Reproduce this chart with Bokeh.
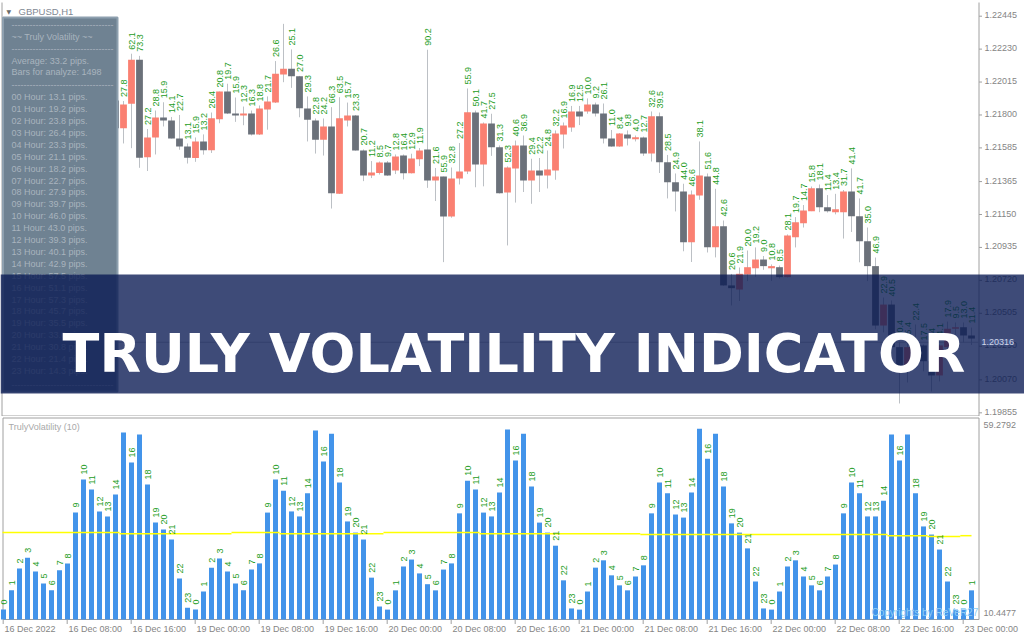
import numpy as np
from bokeh.plotting import figure
from bokeh.layouts import column
from bokeh.models import Range1d, ColumnDataSource, BoxAnnotation, Label
from bokeh.core.properties import value
from bokeh.embed import file_html
from bokeh.resources import INLINE

# ---------------- data ----------------
SYMBOL = "GBPUSD,H1"
INDICATOR = "TrulyVolatility (10)"
BANNER = "TRULY VOLATILITY INDICATOR"
COPYRIGHT = "Copyrights by ReVeR27"

HOURS = [0, 1, 2, 3, 4, 5, 6, 7, 8, 9, 10, 11, 12, 13, 14, 15, 16, 17, 18, 19, 20, 21, 22, 23]
HIDDEN_LABEL_HOURS = [15, 17]   # their labels are not shown in the pane (would hit the top)

VOL_16 = [11.2, 16.2, 21.9, 24.7, 21.1, 18.0, 16.2, 21.4, 23.2, 36.4, 45.0, 42.4,
          36.7, 35.4, 41.1, 57.2, 49.4, 56.7, 43.7, 33.8, 32.0, 29.4, 19.3, 11.7]
VOL_19 = [11.2, 15.9, 22.1, 24.5, 21.1, 18.0, 16.2, 21.6, 23.2, 36.4, 45.0, 42.1,
          36.7, 35.4, 41.4, 57.7, 49.7, 56.9, 44.2, 34.1, 31.2, 29.4, 19.5, 12.0]
VOL_20 = [11.2, 16.2, 22.4, 24.2, 20.6, 17.8, 16.2, 21.6, 23.2, 36.2, 44.7, 42.4,
          36.4, 35.4, 41.6, 58.0, 49.9, 56.9, 43.2, 33.8, 31.2, 27.8, 18.8, 11.5]
VOL_21 = [11.2, 15.9, 22.1, 24.0, 20.1, 17.5, 16.2, 19.8, 22.7, 36.2, 44.2, 41.4,
          35.9, 35.1, 41.6, 58.2, 50.4, 56.9, 43.2, 33.6, 31.2, 27.1, 18.5, 11.5]
VOL_22 = [11.2, 15.9, 22.4, 24.0, 19.8, 17.5, 16.2, 19.8, 22.9, 36.2, 44.2, 41.4,
          35.4, 35.4, 39.5, 56.7, 49.9, 56.7, 41.4, 32.8, 30.7, 26.8, 18.5, 11.2]
VOL_23 = [11.2, 16.2]
HOURS_23 = [0, 1]

TIME_TICKS = [0, 8, 16, 24, 32, 40, 48, 56, 64, 72, 80, 88, 96, 104, 112, 120]
TIME_LABELS = ["16 Dec 2022", "16 Dec 08:00", "16 Dec 16:00", "19 Dec 00:00",
               "19 Dec 08:00", "19 Dec 16:00", "20 Dec 00:00", "20 Dec 08:00",
               "20 Dec 16:00", "21 Dec 00:00", "21 Dec 08:00", "21 Dec 16:00",
               "22 Dec 00:00", "22 Dec 08:00", "22 Dec 16:00", "23 Dec 00:00"]

PRICE_TICKS = [1.22445, 1.22230, 1.22015, 1.21800, 1.21585, 1.21365, 1.21150,
               1.20935, 1.20720, 1.20505, 1.20290, 1.20070, 1.19855]
VOL_TICKS = [59.2792, 10.4477]
BID = 1.20316

# average line (bar index from, bar index to, level)
AVG_FROM = [-0.125, 14.5, 28.5, 34.5, 47.5, 59.5, 79.6, 110.5, 115.5, 119.6]
AVG_TO = [14.5, 28.5, 34.5, 47.5, 59.5, 79.6, 110.5, 115.5, 119.6, 121.0]
AVG_LEVEL = [31.2, 30.9, 31.2, 30.9, 31.2, 30.9, 30.7, 30.4, 30.2, 30.4]

CANDLE_FIRST = 14
OPEN = [1.21895, 1.21714, 1.21873, 1.22160, 1.21524, 1.21653, 1.21784, 1.21764, 1.21646, 1.21594,
        1.21519, 1.21627, 1.21570, 1.21772, 1.21953, 1.21810, 1.21797, 1.21810, 1.21673, 1.21836,
        1.21881, 1.22064, 1.22102, 1.22053, 1.21842, 1.21764, 1.21638, 1.21725, 1.21285, 1.21764,
        1.21797, 1.21568, 1.21405, 1.21421, 1.21490, 1.21437, 1.21535, 1.21420, 1.21511, 1.21575,
        1.21372, 1.21398, 1.21137, 1.21385, 1.21431, 1.21816, 1.21477, 1.21744, 1.21590, 1.21294,
        1.21451, 1.21601, 1.21372, 1.21437, 1.21405, 1.21437, 1.21673, 1.21718, 1.21823, 1.21823,
        1.21868, 1.21810, 1.21646, 1.21594, 1.21673, 1.21642, 1.21653, 1.21548, 1.21792, 1.21492,
        1.21361, 1.21300, 1.20969, 1.21274, 1.21398, 1.20937, 1.21074, 1.20687, 1.20660, 1.20758,
        1.20799, 1.20856, 1.20799, 1.20806, 1.20741, 1.21002, 1.21093, 1.21172, 1.21322, 1.21198,
        1.21165, 1.21165, 1.21300, 1.21139, 1.20976, 1.20813, 1.20425, 1.20562, 1.20284, 1.20149,
        1.20257, 1.20295, 1.20192, 1.20099, 1.20284, 1.20404, 1.20414, 1.20360]
HIGH = [1.21921, 1.21891, 1.22200, 1.22186, 1.21708, 1.21829, 1.21883, 1.21787, 1.21800, 1.21614,
        1.21653, 1.21673, 1.21816, 1.21953, 1.22004, 1.21914, 1.21855, 1.21829, 1.21862, 1.21921,
        1.22152, 1.22395, 1.22228, 1.22055, 1.21921, 1.21777, 1.21777, 1.21851, 1.21916, 1.21881,
        1.21800, 1.21575, 1.21499, 1.21496, 1.21499, 1.21542, 1.21542, 1.21547, 1.21584, 1.22226,
        1.21454, 1.21398, 1.21457, 1.21617, 1.21973, 1.21829, 1.21751, 1.21808, 1.21601, 1.21464,
        1.21633, 1.21666, 1.21514, 1.21519, 1.21568, 1.21699, 1.21751, 1.21859, 1.21859, 1.21908,
        1.21881, 1.21875, 1.21702, 1.21682, 1.21699, 1.21666, 1.21659, 1.21823, 1.21816, 1.21539,
        1.21418, 1.21351, 1.21307, 1.21627, 1.21418, 1.21318, 1.21111, 1.20762, 1.20804, 1.20915,
        1.20935, 1.20879, 1.20824, 1.20817, 1.21020, 1.21133, 1.21212, 1.21333, 1.21346, 1.21277,
        1.21285, 1.21310, 1.21451, 1.21255, 1.21065, 1.20869, 1.20608, 1.20589, 1.20321, 1.20308,
        1.20432, 1.20301, 1.20269, 1.20301, 1.20451, 1.20445, 1.20445, 1.20412]
LOW = [1.21673, 1.21614, 1.21583, 1.21455, 1.21434, 1.21542, 1.21725, 1.21646, 1.21573, 1.21483,
       1.21494, 1.21541, 1.21552, 1.21746, 1.21806, 1.21755, 1.21733, 1.21666, 1.21669, 1.21704,
       1.21878, 1.22014, 1.21977, 1.21785, 1.21627, 1.21548, 1.21535, 1.21189, 1.21284, 1.21725,
       1.21567, 1.21368, 1.21388, 1.21411, 1.21402, 1.21414, 1.21379, 1.21418, 1.21466, 1.21324,
       1.21238, 1.20839, 1.21129, 1.21346, 1.21414, 1.21328, 1.21334, 1.21533, 1.21287, 1.20948,
       1.21228, 1.21297, 1.21220, 1.21297, 1.21320, 1.21377, 1.21581, 1.21690, 1.21734, 1.21808,
       1.21790, 1.21614, 1.21592, 1.21592, 1.21601, 1.21627, 1.21533, 1.21496, 1.21421, 1.21255,
       1.21170, 1.20910, 1.20840, 1.21246, 1.20902, 1.20870, 1.20685, 1.20556, 1.20585, 1.20715,
       1.20743, 1.20789, 1.20716, 1.20732, 1.20739, 1.20935, 1.21065, 1.21172, 1.21165, 1.21163,
       1.21151, 1.20993, 1.21036, 1.20838, 1.20715, 1.20400, 1.20380, 1.20190, 1.19916, 1.20053,
       1.20210, 1.20126, 1.19994, 1.20060, 1.20272, 1.20350, 1.20314, 1.20298]
CLOSE = [1.21714, 1.21868, 1.22160, 1.21520, 1.21653, 1.21784, 1.21764, 1.21646, 1.21594, 1.21520,
         1.21627, 1.21570, 1.21779, 1.21953, 1.21810, 1.21797, 1.21810, 1.21673, 1.21842, 1.21888,
         1.22069, 1.22102, 1.22053, 1.21844, 1.21769, 1.21638, 1.21725, 1.21289, 1.21779, 1.21797,
         1.21568, 1.21405, 1.21424, 1.21490, 1.21405, 1.21529, 1.21420, 1.21516, 1.21568, 1.21372,
         1.21398, 1.21137, 1.21385, 1.21431, 1.21818, 1.21477, 1.21744, 1.21590, 1.21289, 1.21457,
         1.21601, 1.21372, 1.21437, 1.21405, 1.21444, 1.21679, 1.21731, 1.21823, 1.21790, 1.21868,
         1.21810, 1.21646, 1.21594, 1.21679, 1.21646, 1.21655, 1.21548, 1.21792, 1.21492, 1.21361,
         1.21300, 1.20969, 1.21281, 1.21405, 1.20937, 1.21074, 1.20687, 1.20669, 1.20763, 1.20806,
         1.20856, 1.20813, 1.20813, 1.20741, 1.21013, 1.21100, 1.21176, 1.21322, 1.21198, 1.21172,
         1.21185, 1.21300, 1.21139, 1.20976, 1.20813, 1.20425, 1.20562, 1.20284, 1.20149, 1.20284,
         1.20295, 1.20192, 1.20099, 1.20295, 1.20404, 1.20414, 1.20360, 1.20340]
RANGE_LABELS = ["", "27.8", "62.1", "73.3", "27.2", "28.8", "15.9", "14.1", "22.7", "13.1",
                "15.9", "13.2", "26.4", "20.8", "19.7", "15.9", "12.3", "16.3", "18.8", "21.7",
                "26.6", "", "25.1", "27.0", "29.3", "22.8", "24.2", "66.3", "63.5", "15.7",
                "23.3", "20.7", "11.2", "8.5", "9.7", "12.8", "16.4", "12.9", "11.9", "90.2",
                "21.6", "55.9", "32.8", "27.2", "55.9", "50.1", "41.7", "27.5", "31.3", "52.3",
                "40.6", "36.9", "29.4", "22.2", "24.8", "32.2", "16.9", "16.9", "12.5", "10.0",
                "9.2", "26.1", "11.0", "8.4", "9.8", "4.0", "12.7", "32.6", "39.5", "28.5",
                "24.9", "44.0", "46.6", "38.1", "51.6", "44.8", "42.6", "20.6", "21.9", "20.0",
                "19.2", "9.0", "10.8", "8.5", "28.1", "19.7", "14.7", "15.8", "18.1", "11.4",
                "13.4", "31.7", "41.4", "41.7", "35.0", "46.9", "22.9", "40.5", "40.4", "25.4",
                "22.4", "17.5", "27.4", "24.1", "17.9", "9.5", "13.0", "11.4"]

PANEL_AVERAGE = 33.2
PANEL_BARS = 1498
HOUR_AVG = [13.1, 19.2, 23.8, 26.4, 23.3, 21.1, 18.2, 22.7, 27.9, 39.7, 46.0, 43.0,
            39.3, 40.1, 42.9, 57.5, 51.1, 57.3, 45.7, 35.5, 33.0, 30.8, 21.4, 14.3]

# ---------------- layout helpers (reference pixel -> data) ----------------
FONT = "Liberation Sans"
W = 1024
GRID = "#a0a0a0"
AXIS_TEXT = "#858585"


def xi(px):
    return (px - 3.0) / 8.0


def yp(py):
    return 1.225475 - 0.0000653 * py


def yv(py):
    return 59.2792 - (py - 424.0) / 3.85


def base_fig(height, yr):
    f = figure(width=W, height=height, output_backend="svg", toolbar_location=None,
               x_range=Range1d(xi(0), xi(W)), y_range=yr,
               x_axis_location=None, y_axis_location=None, min_border=0,
               background_fill_color="white", border_fill_color="white",
               outline_line_color=None)
    f.grid.visible = False
    return f


# ---------------- top pane (price) ----------------
top = base_fig(416, Range1d(yp(416), yp(0)))

# pane frame
top.multi_line(xs=[[xi(1.5), xi(1.5)], [xi(978.5), xi(978.5)], [xi(1.5), xi(978.5)]],
               ys=[[yp(2), yp(415.5)], [yp(2), yp(415.5)], [yp(415.5), yp(415.5)]],
               line_color=GRID, line_width=1)
# price scale
top.segment(x0=[xi(978.5)] * len(PRICE_TICKS), x1=[xi(981.5)] * len(PRICE_TICKS),
            y0=PRICE_TICKS, y1=PRICE_TICKS, line_color=GRID, line_width=1)
top.text(x=[xi(984)] * len(PRICE_TICKS), y=PRICE_TICKS, text=["%.5f" % v for v in PRICE_TICKS],
         text_align="left", text_baseline="middle", y_offset=-1, text_font=value(FONT),
         text_font_size="9px", text_color=AXIS_TEXT)

cx = list(range(CANDLE_FIRST, CANDLE_FIRST + len(OPEN)))
csrc = ColumnDataSource(dict(
    x=cx, o=OPEN, h=HIGH, l=LOW, c=CLOSE,
    bt=[max(a, b) for a, b in zip(OPEN, CLOSE)],
    bb=[min(a, b) for a, b in zip(OPEN, CLOSE)],
    col=["#fa8072" if c > o else "#6b717a" for o, c in zip(OPEN, CLOSE)],
    lab=RANGE_LABELS))
top.segment(x0=[xi(2)], x1=[xi(978)], y0=[BID], y1=[BID], line_color="#c8c8c8", line_width=1)
top.segment(x0="x", y0="h", x1="x", y1="l", source=csrc, line_color="#bcc0c5", line_width=1)
top.vbar(x="x", width=0.85, top="bt", bottom="bb", source=csrc, fill_color="col", line_color=None)
top.text(x="x", y="h", text="lab", source=csrc, angle=np.pi / 2, text_align="left",
         text_baseline="middle", y_offset=-4, text_font=value(FONT), text_font_size="9px",
         text_color="#1c9c1c")

# info panel
top.quad(left=xi(2.5), right=xi(117), top=yp(17), bottom=yp(391),
         fill_color="#6f8292", line_color="#8ea0af", line_width=2)
SEP = "-" * 34
panel_text = [SEP, "~~ Truly Volatility ~~", SEP,
              "Average: %.1f pips." % PANEL_AVERAGE, "Bars for analyze: %d" % PANEL_BARS, SEP]
panel_y = [24, 36, 48.3, 60.7, 71.3, 84]
for k, (h, v) in enumerate(zip(HOURS, HOUR_AVG)):
    panel_text.append("%02d Hour: %.1f pips." % (h, v))
    panel_y.append(96.7 + 11.9 * k)
panel_text.append(SEP)
panel_y.append(384)
top.text(x=[xi(11)] * len(panel_text), y=[yp(v) for v in panel_y], text=panel_text,
         text_align="left", text_baseline="middle", text_font=value(FONT),
         text_font_size="9px", text_color="#a9b4be")

top.text(x=[xi(18)], y=[yp(10.5)], text=[SYMBOL], text_align="left", text_baseline="middle",
         text_font=value(FONT), text_font_size="9.5px", text_color="#7f8893")
top.text(x=[xi(6)], y=[yp(10.5)], text=["\u25bc"], text_align="left", text_baseline="middle",
         text_font=value("DejaVu Sans"), text_font_size="6px", text_color="#6a6a6a")

# banner over the price pane
top.add_layout(BoxAnnotation(left=xi(0), right=xi(W), top=yp(274), bottom=yp(393),
                             fill_color="#081852", fill_alpha=0.78, line_color=None))
top.add_layout(Label(x=xi(513.5), y=yp(353), text=BANNER, text_align="center",
                     text_baseline="alphabetic", text_font="DejaVu Sans",
                     text_font_style="bold", text_font_size="54px", text_color="#ffffff"))
top.add_layout(Label(x=xi(981), y=BID, text="%.5f" % BID, text_align="left",
                     text_baseline="middle", text_font=FONT, text_font_size="9px",
                     text_color="#cfd6e6", background_fill_color="#45558a"))

# ---------------- bottom pane (volatility histogram) ----------------
vol = VOL_16 + VOL_19 + VOL_20 + VOL_21 + VOL_22 + VOL_23
bar_hours = HOURS * 5 + HOURS_23
bx_idx = list(range(len(vol)))
FLOOR = yv(619)

bot = base_fig(224, Range1d(yv(640), yv(416)))
bot.x_range = top.x_range

bot.multi_line(xs=[[xi(2.5), xi(978.5)], [xi(2.5), xi(2.5)], [xi(978.5), xi(978.5)], [xi(2.5), xi(978.5)]],
               ys=[[yv(417.5), yv(417.5)], [yv(417.5), yv(619)], [yv(417.5), yv(619)], [yv(619), yv(619)]],
               line_color=GRID, line_width=1)

bsrc = ColumnDataSource(dict(x=bx_idx, v=vol,
                             lab=["" if h in HIDDEN_LABEL_HOURS else str(h) for h in bar_hours]))
bot.vbar(x="x", top="v", bottom=FLOOR, width=0.625, source=bsrc, fill_color="#4394ea", line_color=None)
bot.segment(x0=AVG_FROM, x1=AVG_TO, y0=AVG_LEVEL, y1=AVG_LEVEL, line_color="#ffff00", line_width=1.5)
bot.text(x="x", y="v", text="lab", source=bsrc, angle=np.pi / 2, text_align="left",
         text_baseline="middle", y_offset=-5, text_font=value(FONT), text_font_size="9px",
         text_color="#1c9c1c")
bot.text(x=[xi(8)], y=[yv(426)], text=[INDICATOR], text_align="left", text_baseline="middle",
         text_font=value(FONT), text_font_size="9px", text_color="#a9a9a9")
bot.text(x=[xi(871)], y=[yv(612)], text=[COPYRIGHT], text_align="left", text_baseline="middle",
         text_font=value(FONT), text_font_size="10px", text_color="#8fcdf5")

# time scale
bot.segment(x0=[t - 0.04 for t in TIME_TICKS], x1=[t - 0.04 for t in TIME_TICKS],
            y0=[FLOOR] * len(TIME_TICKS), y1=[yv(623.5)] * len(TIME_TICKS),
            line_color=GRID, line_width=1)
bot.text(x=TIME_TICKS, y=[yv(628.5)] * len(TIME_TICKS), text=TIME_LABELS, x_offset=1,
         text_align="left", text_baseline="middle", text_font=value(FONT),
         text_font_size="9px", text_color=AXIS_TEXT)
# value scale
bot.text(x=[xi(983)] * len(VOL_TICKS), y=VOL_TICKS, text=["%.4f" % v for v in VOL_TICKS],
         text_align="left", text_baseline="middle", text_font=value(FONT),
         text_font_size="9px", text_color=AXIS_TEXT)

layout = column(top, bot, spacing=0)
open("out.html", "w").write(file_html(layout, INLINE, "Truly Volatility"))
